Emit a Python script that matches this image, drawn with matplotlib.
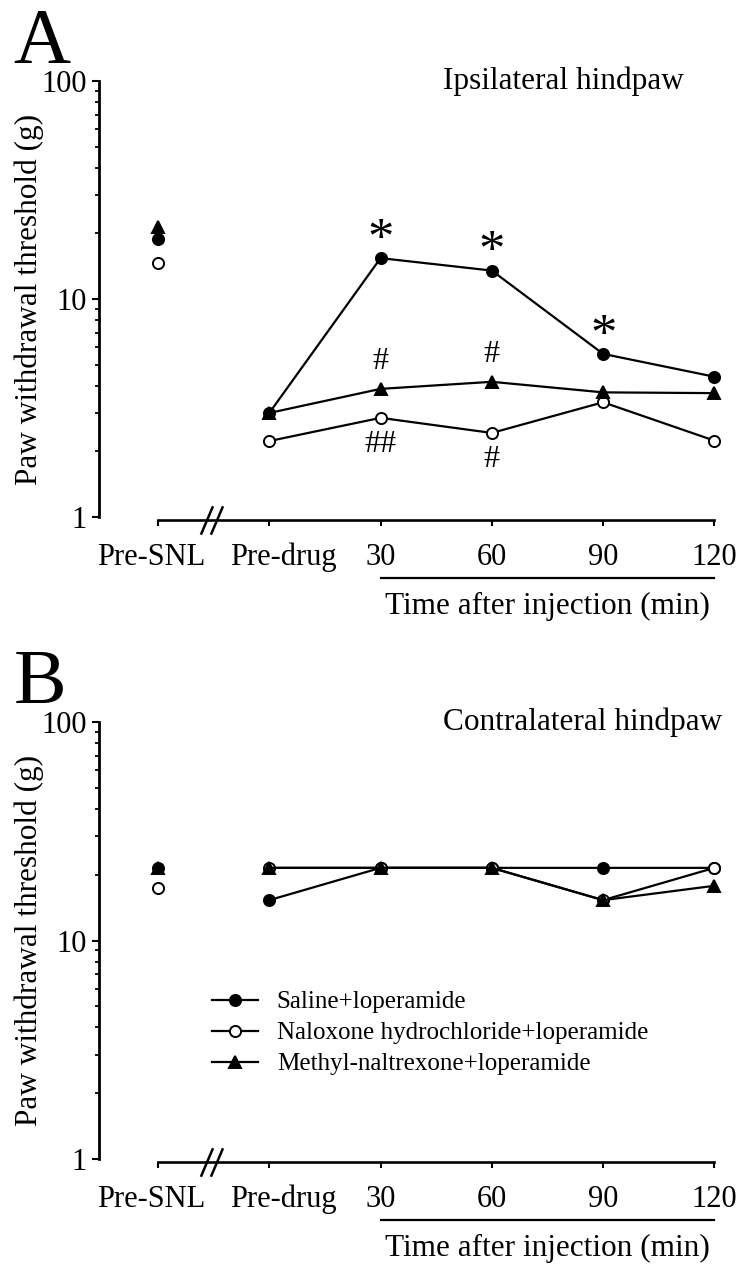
import numpy as np
import matplotlib
matplotlib.use("Agg")
import matplotlib.pyplot as plt
import matplotlib.transforms as mtransforms
from matplotlib.ticker import LogLocator, NullFormatter, FixedLocator, FixedFormatter

plt.rcParams['font.family'] = ['Liberation Serif', 'DejaVu Serif']

W, H, DPI = 750, 1287, 100

# ---------------------------------------------------------------
# data
# ---------------------------------------------------------------
categories = ["Pre-SNL", "Pre-drug", "30", "60", "90", "120"]
series_names = ["Saline+loperamide",
                "Naloxone hydrochloride+loperamide",
                "Methyl-naltrexone+loperamide"]

# panel A: ipsilateral hindpaw (g)
ipsi_saline = [18.8, 3.0, 15.4, 13.5, 5.6, 4.4]
ipsi_naloxone = [14.6, 2.23, 2.85, 2.43, 3.36, 2.24]
ipsi_methyl = [21.5, 3.0, 3.87, 4.17, 3.73, 3.7]

# panel B: contralateral hindpaw (g)
contra_saline = [21.5, 15.3, 21.5, 21.5, 21.5, 21.5]
contra_naloxone = [17.3, 21.5, 21.5, 21.5, 15.3, 21.5]
contra_methyl = [21.5, 21.5, 21.5, 21.5, 15.3, 17.8]

# significance marks in panel A: (series index, point index, text, above?)
ipsi_marks = [(0, 2, "*", True), (0, 3, "*", True), (0, 4, "*", True),
              (2, 2, "#", True), (2, 3, "#", True),
              (1, 2, "##", False), (1, 3, "#", False)]

styles = [dict(marker="o", mfc="black", mec="black", ms=8),
          dict(marker="o", mfc="white", mec="black", ms=8),
          dict(marker="^", mfc="black", mec="black", ms=9)]

FS = 22.5
# small horizontal nudges (px) of the first two tick labels
label_shift = [-7, 14, 0, 0, 0, 0]


def px_rect(left, top, right, bottom):
    return [left / W, 1 - bottom / H, (right - left) / W, (bottom - top) / H]


def draw_panel(ax, series, title, letter):
    x = np.arange(len(categories))
    for vals, st in zip(series, styles):
        ax.plot(x[1:], vals[1:], color="black", lw=1.6, mew=1.4, zorder=3, **st)
        ax.plot(x[:1], vals[:1], ls="none", mew=1.4, zorder=3, **st)

    ax.set_yscale("log")
    ax.set_ylim(1, 100)
    ax.set_xlim(-0.53, 5.23)
    ax.yaxis.set_major_locator(FixedLocator([1, 10, 100]))
    ax.yaxis.set_major_formatter(FixedFormatter(["1", "10", "100"]))
    ax.yaxis.set_minor_locator(LogLocator(base=10, subs=np.arange(2, 10)))
    ax.yaxis.set_minor_formatter(NullFormatter())
    ax.set_xticks(x)
    ax.set_xticklabels(categories)

    for s in ["top", "right"]:
        ax.spines[s].set_visible(False)
    ax.spines["left"].set_linewidth(2.0)
    ax.spines["bottom"].set_linewidth(1.9)
    ax.spines["bottom"].set_bounds(0, 5)
    ax.spines["bottom"].set_position(("outward", 2.5))

    ax.tick_params(axis="y", which="major", length=5, width=1.5, labelsize=22, pad=4)
    ax.tick_params(axis="y", which="minor", length=3, width=1.3)
    ax.tick_params(axis="x", length=4, width=1.5, labelsize=22, pad=12)

    for lab, dx in zip(ax.get_xticklabels(), label_shift):
        lab.set_transform(lab.get_transform() +
                          mtransforms.Affine2D().translate(dx, 0))

    ax.set_ylabel("Paw withdrawal threshold (g)", fontsize=FS, labelpad=-2)

    # axis break on x axis
    tr = mtransforms.blended_transform_factory(ax.transData, ax.transAxes)
    for xb in [0.44, 0.53]:
        ax.plot([xb - 0.05, xb + 0.05], [-0.038, 0.022], color="black", lw=1.8,
                transform=tr, clip_on=False)

    # "Time after injection" bracket line and label
    ax.plot([2, 5], [-0.140, -0.140], color="black", lw=1.6, transform=tr, clip_on=False)
    ax.text(3.5, -0.205, "Time after injection (min)", transform=tr, fontsize=FS,
            ha="center", va="center")

    ax.text(0.537, 1.0, title, transform=ax.transAxes, fontsize=FS,
            ha="left", va="center")
    ax.text(-0.133, 1.0436, letter, transform=ax.transAxes, fontsize=57,
            ha="left", va="baseline")


fig = plt.figure(figsize=(W / DPI, H / DPI), dpi=DPI)
axA = fig.add_axes(px_rect(99, 81, 740, 517))
axB = fig.add_axes(px_rect(99, 722, 740, 1159))

ipsi = [ipsi_saline, ipsi_naloxone, ipsi_methyl]
contra = [contra_saline, contra_naloxone, contra_methyl]

draw_panel(axA, ipsi, "Ipsilateral hindpaw", "A")
draw_panel(axB, contra, "Contralateral hindpaw", "B")

# significance symbols
for si, pi, txt, above in ipsi_marks:
    val = ipsi[si][pi]
    if txt == "*":
        axA.annotate(txt, (pi, val), xytext=(0, 3), textcoords="offset points",
                     ha="center", va="baseline", fontsize=38)
    else:
        axA.annotate(txt, (pi, val), xytext=(0, 20 if above else -19),
                     textcoords="offset points", ha="center", va="center",
                     fontsize=23)

# legend in panel B
handles = [plt.Line2D([], [], color="black", lw=1.6, mew=1.4, **st) for st in styles]
axB.legend(handles, series_names, loc="upper left", bbox_to_anchor=(0.176, 0.385),
           frameon=False, fontsize=18, handlelength=1.85, handletextpad=0.75,
           labelspacing=0.34, borderpad=0, borderaxespad=0)

fig.savefig("out.png", dpi=DPI)
